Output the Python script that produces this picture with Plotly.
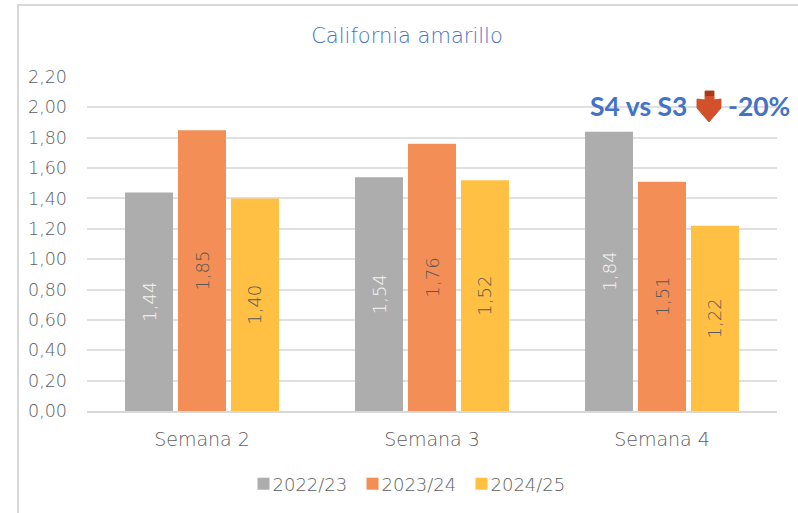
import plotly.graph_objects as go

categories = ["Semana 2", "Semana 3", "Semana 4"]
seasons = ["2022/23", "2023/24", "2024/25"]
values_2223 = [1.44, 1.54, 1.84]
values_2324 = [1.85, 1.76, 1.51]
values_2425 = [1.40, 1.52, 1.22]
labels_2223 = ["1,44", "1,54", "1,84"]
labels_2324 = ["1,85", "1,76", "1,51"]
labels_2425 = ["1,40", "1,52", "1,22"]
tick_values = [0, 0.2, 0.4, 0.6, 0.8, 1.0, 1.2, 1.4, 1.6, 1.8, 2.0, 2.2]
tick_labels = ["0,00", "0,20", "0,40", "0,60", "0,80", "1,00", "1,20", "1,40", "1,60", "1,80", "2,00", "2,20"]
colors = ["#ADADAD", "#F28E56", "#FFC044"]
label_colors = ["#F5F5F5", "#595959", "#595959"]

W, H = 798, 513
L, R, T, B = 87, 777, 77, 411
FONT = "DejaVu Sans Light, DejaVu Sans"
HEAD_FONT = "Lato"
GREY = "#5E5E5E"

fig = go.Figure()
for name, vals, labs, col, lc in zip(seasons, [values_2223, values_2324, values_2425],
                                     [labels_2223, labels_2324, labels_2425], colors, label_colors):
    fig.add_bar(name=name, x=categories, y=vals, text=labs, marker=dict(color=col, line_width=0),
                textposition="inside", insidetextanchor="middle", textangle=-90,
                insidetextfont=dict(color=lc, size=18, family=FONT), cliponaxis=False)

def px(x):
    return (x - L) / (R - L)

def py(y):
    return (B - y) / (B - T)

arrow = [(705, 91), (714, 91), (714, 100), (721, 99), (721, 108), (709, 122), (697, 108), (697, 99), (705, 100)]
arrow_path = "M " + " L ".join(f"{px(x):.4f},{py(y):.4f}" for x, y in arrow) + " Z"
arrow_top = [(705, 91), (714, 91), (714, 96), (705, 96)]
arrow_top_path = "M " + " L ".join(f"{px(x):.4f},{py(y):.4f}" for x, y in arrow_top) + " Z"

fig.update_layout(
    width=W, height=H, autosize=False,
    margin=dict(l=L, r=W - R, t=T, b=H - B, pad=0),
    paper_bgcolor="white", plot_bgcolor="white",
    barmode="group", bargap=0.309, bargroupgap=0.094,
    font=dict(family=FONT, color=GREY, size=18),
    title=dict(text="California amarillo", x=407 / W, xanchor="center", y=1 - 36 / H, yanchor="middle",
               font=dict(size=21, color="#4472C4", family=FONT)),
    xaxis=dict(range=[-0.5, 2.5], showgrid=False, showline=True, linecolor="#D9D9D9", linewidth=2,
               ticks="", tickfont=dict(size=19, color=GREY, family=FONT), ticklabelstandoff=10),
    yaxis=dict(range=[0, 2.2], tickvals=tick_values, ticktext=tick_labels, showgrid=True,
               gridcolor="#E0E0E0", gridwidth=2, showline=False, zeroline=False, ticks="",
               tickfont=dict(size=17.5, color=GREY, family=FONT), ticklabelstandoff=19),
    legend=dict(orientation="h", x=396 / W, xref="container", xanchor="center", y=1 - 484 / H, yref="container",
                yanchor="middle", font=dict(size=18, color=GREY, family=FONT), itemwidth=30,
                entrywidth=64, entrywidthmode="pixels"),
    shapes=[
        dict(type="path", path=arrow_path, xref="paper", yref="paper", fillcolor="#D2512A",
             line=dict(width=1, color="#C4562F")),
        dict(type="path", path=arrow_top_path, xref="paper", yref="paper", fillcolor="#A83A1C",
             line=dict(width=0)),
        dict(type="rect", xref="paper", yref="paper", x0=px(18), x1=px(820), y0=py(5), y1=py(540),
             line=dict(color="#D9D9D9", width=2), layer="below"),
    ],
    annotations=[
        dict(text="<b>S4 vs S3</b>", xref="paper", yref="paper", x=px(689), y=py(106), xanchor="right",
             yanchor="middle", showarrow=False, font=dict(size=26.5, color="#4472C4", family=HEAD_FONT)),
        dict(text="<b>-20%</b>", xref="paper", yref="paper", x=px(726), y=py(106), xanchor="left",
             yanchor="middle", showarrow=False, font=dict(size=26.5, color="#4472C4", family=HEAD_FONT)),
    ],
)
post = """document.body.style.margin='0';
document.querySelectorAll('.legendsymbols').forEach(function(el){el.setAttribute('transform','translate(11,0)');});
document.querySelectorAll('.legend .scrollbox').forEach(function(el){el.removeAttribute('clip-path');el.style.clipPath='none';});
document.querySelectorAll('.legend .traces text').forEach(function(el){el.removeAttribute('clip-path');});
document.querySelectorAll('.legend .legendtoggle').forEach(function(el){el.style.clipPath='none';});
document.querySelectorAll('.legend .traces, .legend .groups').forEach(function(el){el.removeAttribute('clip-path');el.style.clipPath='none';});"""
fig.write_html("out.html", post_script=post, config={"displayModeBar": False})
